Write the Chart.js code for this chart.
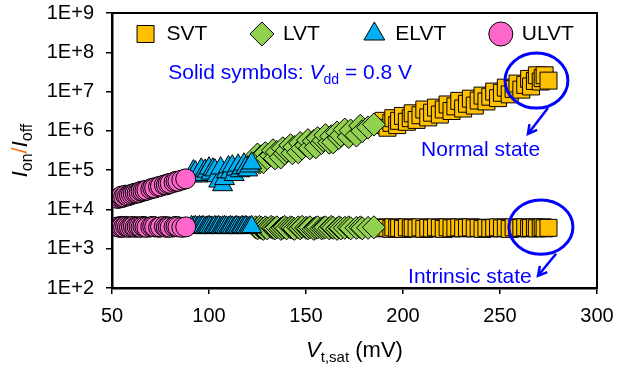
<!DOCTYPE html>
<html><head><meta charset="utf-8">
<script src="https://cdn.jsdelivr.net/npm/chart.js@4.4.1/dist/chart.umd.min.js"></script>
<style>html,body{margin:0;padding:0;background:#fff;}canvas{display:block}</style>
</head><body>
<canvas id="c" width="626" height="368"></canvas>
<script>
const FONT = '"Liberation Sans", Arial, sans-serif';

// ---- data ----
const categories = ['SVT', 'LVT', 'ELVT', 'ULVT'];
const xTicks = [50, 100, 150, 200, 250, 300];
const yTickExponents = [2, 3, 4, 5, 6, 7, 8, 9];
const yTickLabels = ['1E+2', '1E+3', '1E+4', '1E+5', '1E+6', '1E+7', '1E+8', '1E+9'];

const svtVt = [189,190,192,194,195,197,198,200,202,204,205,207,209,211,213,215,217,219,221,223,225,227,229,231,233,235,237,239,241,243,245,247,249,251,253,255,257,259,261,263,265,266,268,269,271,272,273,275];
const svtNormal = [1.4e6,1.8e6,1.2e6,1.6e6,2.1e6,1.4e6,1.8e6,2.4e6,1.7e6,2.1e6,2.8e6,1.9e6,2.5e6,3.5e6,2.2e6,2.9e6,3.9e6,2.6e6,3.5e6,4.7e6,3.2e6,4.2e6,5.8e6,3.7e6,4.9e6,6.6e6,4.4e6,5.9e6,7.9e6,5.6e6,7.4e6,1.0e7,6.8e6,9.3e6,1.26e7,8.5e6,1.17e7,1.6e7,1.12e7,1.48e7,2.1e7,1.35e7,1.86e7,2.6e7,1.8e7,2.2e7,2.6e7,1.9e7];
const svtIntrinsic = [3.5e3,3.3e3,3.4e3,3.2e3,3.5e3,3.3e3,3.4e3,3.2e3,3.5e3,3.3e3,3.4e3,3.3e3,3.5e3,3.2e3,3.4e3,3.3e3,3.5e3,3.4e3,3.2e3,3.5e3,3.3e3,3.4e3,3.5e3,3.3e3,3.4e3,3.5e3,3.3e3,3.4e3,3.2e3,3.4e3,3.3e3,3.4e3,3.5e3,3.3e3,3.4e3,3.2e3,3.5e3,3.3e3,3.4e3,3.5e3,3.3e3,3.4e3,3.5e3,3.3e3,3.4e3,3.5e3,3.3e3,3.4e3];

const lvtVt = [124,125,126,127,128,129,130,132,133,134,135,137,138,139,140,142,143,144,146,147,148,150,151,152,154,155,156,158,159,160,162,163,164,166,167,168,170,172,173,176,178,179,182,185];
const lvtNormal = [1.8e5,2.5e5,1.55e5,2.25e5,1.6e5,2.7e5,2.0e5,2.35e5,3.2e5,2.0e5,2.9e5,2.1e5,3.6e5,2.65e5,3.1e5,4.3e5,2.7e5,3.9e5,2.85e5,4.9e5,3.55e5,4.3e5,5.8e5,3.6e5,5.5e5,3.8e5,6.5e5,4.9e5,5.7e5,7.8e5,5.0e5,7.3e5,5.1e5,9.1e5,6.6e5,7.7e5,1.08e6,7.0e5,1.02e6,7.6e5,1.35e6,9.8e5,1.22e6,1.45e6];
const lvtIntrinsic = [3.5e3,3.3e3,3.6e3,3.4e3,3.2e3,3.5e3,3.3e3,3.6e3,3.4e3,3.3e3,3.5e3,3.2e3,3.4e3,3.6e3,3.3e3,3.5e3,3.4e3,3.2e3,3.5e3,3.3e3,3.6e3,3.4e3,3.3e3,3.5e3,3.2e3,3.4e3,3.5e3,3.3e3,3.4e3,3.5e3,3.3e3,3.6e3,3.4e3,3.2e3,3.5e3,3.3e3,3.4e3,3.5e3,3.3e3,3.4e3,3.5e3,3.3e3,3.4e3,3.5e3];

const elvtVt = [91,92,93,94,95,96,97,98,99,100,101,102,103,104,105,106,107,108,109,110,111,112,113,114,115,116,117,118,119,120,121,122];
const elvtNormal = [7.1e4,9.5e4,8.9e4,7.0e4,7.9e4,1.05e5,7.6e4,9.8e4,9.3e4,1.12e5,8.3e4,1.05e5,1.0e5,7.1e4,5.2e4,1.12e5,4.2e4,6.0e4,9.0e4,1.2e5,8.9e4,1.26e5,7.6e4,1.05e5,1.32e5,9.5e4,1.12e5,1.41e5,1.15e5,1.0e5,1.26e5,1.5e5];
const elvtIntrinsic = [3.6e3,3.5e3,3.6e3,3.4e3,3.6e3,3.5e3,3.6e3,3.4e3,3.5e3,3.6e3,3.5e3,3.4e3,3.6e3,3.5e3,3.6e3,3.4e3,3.5e3,3.6e3,3.5e3,3.4e3,3.6e3,3.5e3,3.4e3,3.6e3,3.5e3,3.4e3,3.6e3,3.5e3,3.6e3,3.4e3,3.5e3,3.6e3];

const ulvtVt = [53,54,55,55,56,57,58,59,60,61,62,63,64,65,66,67,68,70,71,72,74,75,77,78,79,80,82,83,84,86,88];
const ulvtNormal = [1.9e4,2.0e4,2.0e4,2.2e4,2.1e4,2.3e4,2.2e4,2.3e4,2.4e4,2.5e4,2.6e4,2.6e4,2.7e4,2.9e4,2.9e4,3.0e4,3.1e4,3.3e4,3.5e4,3.5e4,3.8e4,3.9e4,4.2e4,4.2e4,4.5e4,4.6e4,4.9e4,5.2e4,5.2e4,5.6e4,6.0e4];
const ulvtIntrinsic = [3.6e3,3.5e3,3.7e3,3.6e3,3.5e3,3.7e3,3.6e3,3.5e3,3.6e3,3.7e3,3.5e3,3.6e3,3.6e3,3.5e3,3.7e3,3.6e3,3.5e3,3.6e3,3.7e3,3.6e3,3.5e3,3.6e3,3.7e3,3.5e3,3.6e3,3.5e3,3.6e3,3.7e3,3.6e3,3.5e3,3.6e3];

// ---- styles ----
const styles = {
  SVT:  {color: '#FFC000', pointStyle: 'rect',     radius: 12,   order: 4},
  LVT:  {color: '#92D050', pointStyle: 'rectRot',  radius: 11.5, order: 3},
  ELVT: {color: '#00B0F0', pointStyle: 'triangle', radius: 11.5, order: 2},
  ULVT: {color: '#FF66CC', pointStyle: 'circle',   radius: 10,   order: 1}
};
const seriesData = {
  SVT: [svtVt, svtNormal, svtIntrinsic],
  LVT: [lvtVt, lvtNormal, lvtIntrinsic],
  ELVT: [elvtVt, elvtNormal, elvtIntrinsic],
  ULVT: [ulvtVt, ulvtNormal, ulvtIntrinsic]
};
function pts(xs, ys) { return xs.map((x, i) => ({x: x, y: ys[i]})); }
function ds(name, state, idx) {
  const s = styles[name];
  const d = seriesData[name];
  return {
    label: name, state: state,
    data: pts(d[0], d[idx]),
    backgroundColor: s.color, borderColor: '#000', borderWidth: 1,
    pointStyle: s.pointStyle, pointRadius: s.radius, pointHoverRadius: s.radius,
    order: s.order
  };
}
const datasets = [];
categories.forEach(n => datasets.push(ds(n, 'normal', 1)));
categories.forEach(n => datasets.push(ds(n, 'intrinsic', 2)));

const LEGEND_PAD = 44;
const BLUE = '#0000FF';

function drawRich(ctx, segs, x, y, align) {
  let total = 0;
  segs.forEach(s => {
    ctx.font = (s.italic ? 'italic ' : '') + s.size + 'px ' + FONT;
    s.w = ctx.measureText(s.text).width;
    total += s.w;
  });
  let cx = align === 'center' ? x - total / 2 : x;
  ctx.textBaseline = 'alphabetic';
  ctx.textAlign = 'left';
  segs.forEach(s => {
    ctx.font = (s.italic ? 'italic ' : '') + s.size + 'px ' + FONT;
    ctx.fillStyle = s.color || '#000';
    ctx.fillText(s.text, cx, y + (s.dy || 0));
    cx += s.w;
  });
}

function arrow(ctx, x1, y1, x2, y2) {
  ctx.beginPath(); ctx.moveTo(x1, y1); ctx.lineTo(x2, y2); ctx.stroke();
  const a = Math.atan2(y2 - y1, x2 - x1);
  const L = 10, sp = 0.5;
  ctx.beginPath();
  ctx.moveTo(x2 - L * Math.cos(a - sp), y2 - L * Math.sin(a - sp));
  ctx.lineTo(x2, y2);
  ctx.lineTo(x2 - L * Math.cos(a + sp), y2 - L * Math.sin(a + sp));
  ctx.stroke();
}

const decor = {
  id: 'decor',
  beforeLayout(chart) {
    if (chart.legend) chart.legend.isHorizontal = () => true;
  },
  afterLayout(chart) {
    const lg = chart.legend, a = chart.chartArea;
    if (!lg) return;
    lg.maxWidth = 2000;
    lg.fit();
    lg.left = a.left - 300;
    lg.right = a.right + 300;
    lg.width = lg.right - lg.left;
    lg.top = a.top + 10.5 - LEGEND_PAD;
    lg.bottom = a.bottom;
  },
  afterDraw(chart) {
    const ctx = chart.ctx, a = chart.chartArea;
    const xs = chart.scales.x, ys = chart.scales.y;
    const X = v => xs.getPixelForValue(v);
    const Y = v => ys.getPixelForValue(Math.pow(10, v));
    ctx.save();
    ctx.strokeStyle = '#000';
    ctx.lineWidth = 2;
    ctx.strokeRect(a.left, a.top, a.right - a.left, a.bottom - a.top);
    drawRich(ctx, [
      {text: 'Solid symbols: ', size: 21, color: BLUE},
      {text: 'V', size: 21, italic: true, color: BLUE},
      {text: 'dd', size: 14, color: BLUE, dy: 5},
      {text: ' = 0.8 V', size: 21, color: BLUE}
    ], X(79), Y(7.52) + 7.5, 'left');
    drawRich(ctx, [{text: 'Normal state', size: 21, color: BLUE}], X(209.3), Y(5.56) + 7.5, 'left');
    drawRich(ctx, [{text: 'Intrinsic state', size: 21, color: BLUE}], X(202.6), Y(2.31) + 7.5, 'left');
    ctx.strokeStyle = BLUE;
    ctx.lineWidth = 3;
    [[268.8, 7.28, 16.2, 0.70], [271.1, 3.55, 16.5, 0.69]].forEach(e => {
      const cx = X(e[0]), cy = Y(e[1]);
      const rx = X(e[0] + e[2]) - cx, ry = Y(e[1] - e[3]) - cy;
      ctx.beginPath(); ctx.ellipse(cx, cy, rx, ry, 0, 0, Math.PI * 2); ctx.stroke();
    });
    ctx.lineWidth = 2.5;
    arrow(ctx, X(274.7), Y(6.58), X(264.4), Y(5.92));
    arrow(ctx, X(278.9), Y(2.87), X(269.6), Y(2.31));
    drawRich(ctx, [
      {text: 'V', size: 22, italic: true},
      {text: 't,sat', size: 15, dy: 5},
      {text: ' (mV)', size: 22}
    ], (a.left + a.right) / 2, 357, 'center');
    ctx.translate(27, (a.top + a.bottom) / 2);
    ctx.rotate(-Math.PI / 2);
    drawRich(ctx, [
      {text: 'I', size: 22, italic: true},
      {text: 'on', size: 16, dy: 5},
      {text: '/', size: 22, color: '#FF6A13'},
      {text: 'I', size: 22, italic: true},
      {text: 'off', size: 16, dy: 5}
    ], 0, 0, 'center');
    ctx.restore();
  }
};

function noPad(s) { s.paddingTop = 0; s.paddingBottom = 0; s.paddingLeft = 0; s.paddingRight = 0; }

new Chart(document.getElementById('c'), {
  type: 'scatter',
  data: {datasets: datasets},
  options: {
    responsive: false, animation: false, devicePixelRatio: 1,
    layout: {padding: {top: 13, right: 29, left: 0, bottom: 0}},
    plugins: {
      tooltip: {enabled: false},
      legend: {
        position: 'chartArea', align: 'center',
        labels: {
          usePointStyle: true, boxHeight: 17, padding: LEGEND_PAD,
          font: {family: FONT, size: 21}, color: '#000',
          filter: (item, data) => data.datasets[item.datasetIndex].state === 'normal',
          sort: (a, b) => a.datasetIndex - b.datasetIndex
        }
      }
    },
    scales: {
      x: {
        type: 'linear', min: 50, max: 300,
        afterBuildTicks: s => { s.ticks = xTicks.map(v => ({value: v})); },
        afterFit: s => { s.height = 80; noPad(s); },
        ticks: {font: {family: FONT, size: 20}, color: '#000', padding: 10, maxRotation: 0},
        grid: {drawOnChartArea: false, drawTicks: true, tickLength: 6, color: '#000', lineWidth: 1.5},
        border: {display: true, color: '#000', width: 2.5}
      },
      y: {
        type: 'logarithmic', min: 1e2, max: 1e9,
        afterBuildTicks: s => { s.ticks = yTickExponents.map(e => ({value: Math.pow(10, e)})); },
        afterFit: s => { s.width = 112; noPad(s); },
        ticks: {
          font: {family: FONT, size: 20}, color: '#000', padding: 12,
          callback: (v) => yTickLabels[yTickExponents.indexOf(Math.round(Math.log10(v)))]
        },
        grid: {drawOnChartArea: false, drawTicks: true, tickLength: 6, color: '#000', lineWidth: 1.5},
        border: {display: true, color: '#000', width: 2.5}
      }
    }
  },
  plugins: [decor]
});
</script>
</body></html>
